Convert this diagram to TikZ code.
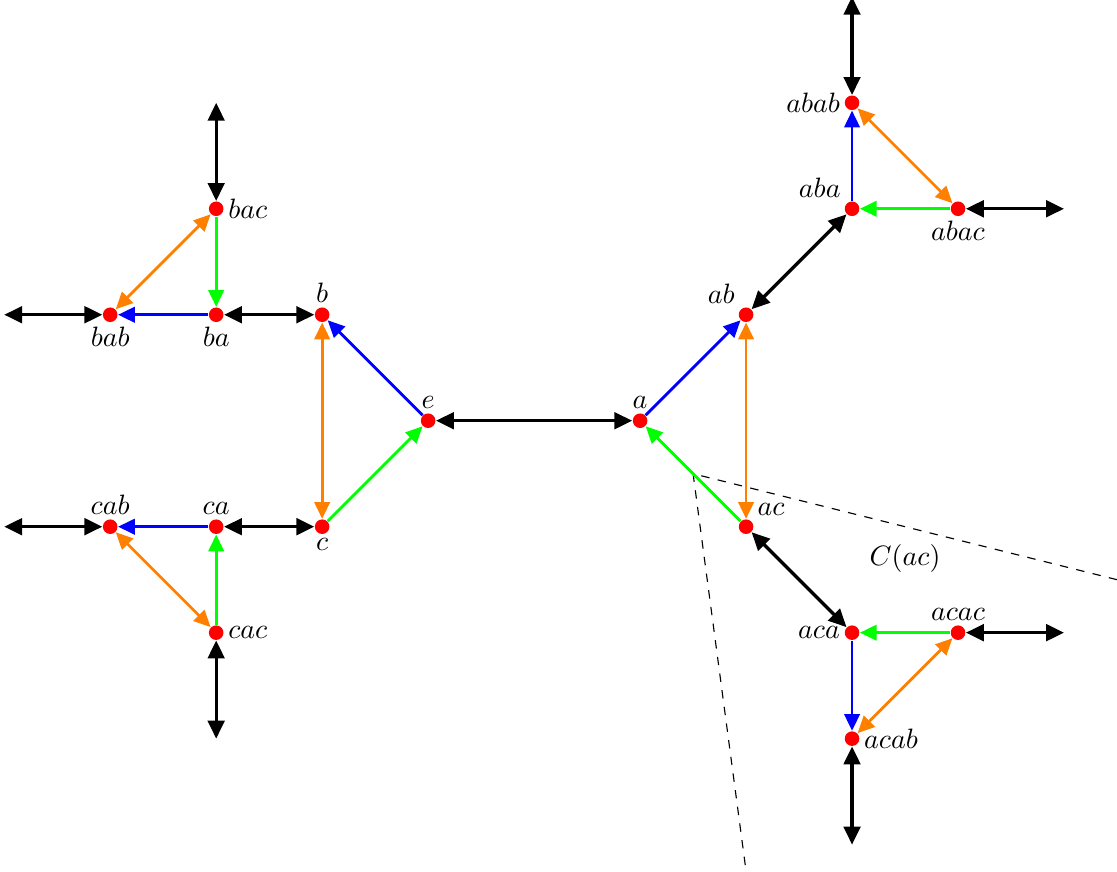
\documentclass[tikz,border=0pt]{standalone}
\usepackage{amsmath}
\usepackage{amssymb}
\usetikzlibrary{arrows.meta}

\begin{document}
\begin{tikzpicture}[x=1.33cm, y=1.33cm,
		>={Triangle[length=4pt 2, width=3.5pt 2]},
		vtx/.style={circle, fill=red, inner sep=0pt, minimum size=5.2pt},
		every label/.style={label distance=-2pt},
		agen/.style={line width=1.2pt, black, <->},
		bgen/.style={line width=1pt, blue, ->},
		cgen/.style={line width=1pt, green, ->},
		ogen/.style={line width=1pt, orange, <->}]
				\useasboundingbox (-4.04, -4.25) rectangle (6.5, 3.97);
				\node[vtx, label=above:{$e$}] (E)at(0, 0) {};
				\node[vtx, label=above:{$a$}] (A)at(2, 0) {};
				\node[vtx, label=above:{$b$}] (B)at(-1, 1) {};
				\node[vtx, label=below:{$c$}] (C)at(-1, -1) {};
				\node[vtx, label=below:{$ba$}] (BA)at(-2, 1) {};
				\node[vtx, label=below:{$bab$}] (BAB)at(-3, 1) {};
				\node[vtx, label=right:{$bac$}] (BAC)at(-2, 2) {};
				\node[vtx, label=above:{$ca$}] (CA)at(-2, -1) {};
				\node[vtx, label=above:{$cab$}] (CAB)at(-3, -1) {};
				\node[vtx, label=right:{$cac$}] (CAC)at(-2, -2) {};
				\node[vtx, label=above left:{$ab$}] (AB)at(3, 1) {};
				\node[vtx, label=above right:{$ac$}] (AC)at(3, -1) {};
				\node[vtx, label=above left:{$aba$}] (ABA)at(4, 2) {};
				\node[vtx, label=left:{$abab$}] (ABAB)at(4, 3) {};
				\node[vtx, label=below:{$abac$}] (ABAC)at(5, 2) {};
				\node[vtx, label=left:{$aca$}] (ACA)at(4, -2) {};
				\node[vtx, label=right:{$acab$}] (ACAB)at(4, -3) {};
				\node[vtx, label=above:{$acac$}] (ACAC)at(5, -2) {};
				\coordinate (BABo) at (-4, 1);
				\coordinate (BACo) at (-2, 3);
				\coordinate (CABo) at (-4, -1);
				\coordinate (CACo) at (-2, -3);
				\coordinate (ABABo) at (4, 4);
				\coordinate (ABACo) at (6, 2);
				\coordinate (ACABo) at (4, -4);
				\coordinate (ACACo) at (6, -2);
				\coordinate (M) at (2.5, -0.5);
				\coordinate (M1) at (6.5, -1.5);
				\coordinate (M2) at (3, -4.25);
				\draw[dashed] (M1) -- (M) -- (M2);
				\node (Cac) at (4.5, -1.3) {$C(ac)$};
				\draw[agen] (E) -- (A);
				\draw[bgen] (E) -- (B);
				\draw[cgen] (C) -- (E);
				\draw[ogen] (B) -- (C);
				\draw[bgen] (A) -- (AB);
				\draw[cgen] (AC) -- (A);
				\draw[ogen] (AB) -- (AC);
				\draw[agen] (B) -- (BA);
				\draw[bgen] (BA) -- (BAB);
				\draw[cgen] (BAC) -- (BA);
				\draw[ogen] (BAB) -- (BAC);
				\draw[agen] (C) -- (CA);
				\draw[bgen] (CA) -- (CAB);
				\draw[cgen] (CAC) -- (CA);
				\draw[ogen] (CAB) -- (CAC);
				\draw[agen] (AB) -- (ABA);
				\draw[bgen] (ABA) -- (ABAB);
				\draw[cgen] (ABAC) -- (ABA);
				\draw[ogen] (ABAB) -- (ABAC);
				\draw[agen] (AC) -- (ACA);
				\draw[bgen] (ACA) -- (ACAB);
				\draw[cgen] (ACAC) -- (ACA);
				\draw[ogen] (ACAB) -- (ACAC);
				\draw[agen] (BAB) -- (BABo);
				\draw[agen] (BAC) -- (BACo);
				\draw[agen] (CAB) -- (CABo);
				\draw[agen] (CAC) -- (CACo);
				\draw[agen] (ABAB) -- (ABABo);
				\draw[agen] (ABAC) -- (ABACo);
				\draw[agen] (ACAB) -- (ACABo);
				\draw[agen] (ACAC) -- (ACACo);
			\end{tikzpicture}
\end{document}
